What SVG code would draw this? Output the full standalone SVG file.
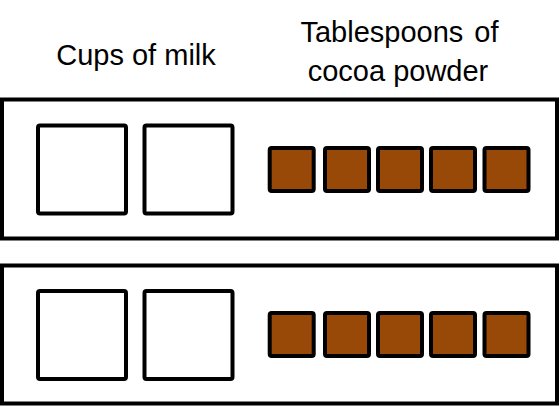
<svg xmlns="http://www.w3.org/2000/svg" width="560" height="407" viewBox="0 0 560 407">
<style>
.frame{fill:#fff;stroke:#000;stroke-width:4}
.cup{fill:#fff;stroke:#000;stroke-width:4}
.tbsp{fill:#984807;stroke:#000;stroke-width:4}
.lbl{font-family:"Liberation Sans",Arial,sans-serif;font-size:29px;fill:#000;text-anchor:middle}
</style>
<rect width="560" height="407" fill="#fff"/>
<g id="labels">
<text class="lbl" x="136" y="65">Cups of milk</text>
<text class="lbl" x="399.5" y="42" word-spacing="3">Tablespoons of</text>
<text class="lbl" x="398" y="81">cocoa powder</text>
</g>
<g id="row1">
<rect class="frame" x="2" y="99.5" width="555" height="139"/>
<rect class="cup" x="38" y="125.5" width="88" height="88" rx="2"/>
<rect class="cup" x="144.5" y="125.5" width="88" height="88" rx="2"/>
<rect class="tbsp" x="269.7" y="148" width="44" height="43" rx="2"/>
<rect class="tbsp" x="325" y="148" width="44" height="43" rx="2"/>
<rect class="tbsp" x="378" y="148" width="44" height="43" rx="2"/>
<rect class="tbsp" x="431" y="148" width="44" height="43" rx="2"/>
<rect class="tbsp" x="484.5" y="148" width="44" height="43" rx="2"/>
</g>
<g id="row2">
<rect class="frame" x="2" y="265.5" width="555" height="138"/>
<rect class="cup" x="38" y="291" width="88" height="88" rx="2"/>
<rect class="cup" x="144.5" y="291" width="88" height="88" rx="2"/>
<rect class="tbsp" x="269.7" y="313" width="44" height="43" rx="2"/>
<rect class="tbsp" x="325" y="313" width="44" height="43" rx="2"/>
<rect class="tbsp" x="378" y="313" width="44" height="43" rx="2"/>
<rect class="tbsp" x="431" y="313" width="44" height="43" rx="2"/>
<rect class="tbsp" x="484.5" y="313" width="44" height="43" rx="2"/>
</g>
</svg>
